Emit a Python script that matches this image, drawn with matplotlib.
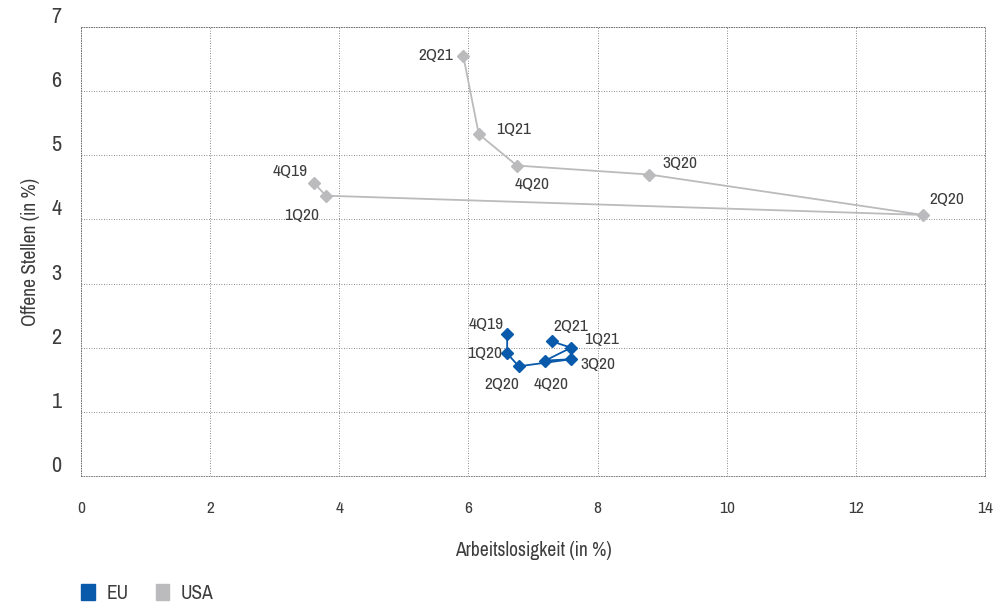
import matplotlib.pyplot as plt
from matplotlib.patches import Patch
from matplotlib import font_manager

# quarters and values (Arbeitslosigkeit, Offene Stellen)
quarters = ["4Q19", "1Q20", "2Q20", "3Q20", "4Q20", "1Q21", "2Q21"]
eu_x = [6.6, 6.6, 6.78, 7.59, 7.19, 7.59, 7.29]
eu_y = [2.21, 1.91, 1.71, 1.82, 1.80, 2.0, 2.10]
usa_x = [3.61, 3.79, 13.04, 8.80, 6.75, 6.16, 5.92]
usa_y = [4.57, 4.37, 4.07, 4.70, 4.84, 5.33, 6.55]

# label offsets in points
eu_off = [(-15, 7), (-16, 0), (-12, -13), (19, -4), (4, -17), (22, 6), (14, 11)]
usa_off = [(-17, 8), (-17, -14), (17, 11), (22, 8), (11, -14), (25, 3), (-20, 0)]

c_eu = "#0a5aab"
c_usa = "#bbbbbd"
c_text = "#3d3d3d"

# pick a narrow face if one is around
names = sorted({f.name for f in font_manager.fontManager.ttflist})
narrow = [n for n in names if "Narrow" in n or "Condensed" in n]
fam = narrow[0] if narrow else "Roboto"
plt.rcParams["font.family"] = [fam, "DejaVu Sans"]

fig = plt.figure(figsize=(9.94, 6.05), dpi=100)
ax = fig.add_axes([81 / 994, 1 - 476 / 605, 904 / 994, 449 / 605])

ax.plot(usa_x, usa_y, color=c_usa, lw=1.3, marker="D", ms=6.5, zorder=3)
ax.plot(eu_x, eu_y, color=c_eu, lw=1.3, marker="D", ms=6.5, zorder=4)

for q, x, y, o in zip(quarters, usa_x, usa_y, usa_off):
    ax.annotate(q, (x, y), xytext=o, textcoords="offset points",
                ha="center", va="center", fontsize=12.5, color=c_text)
for q, x, y, o in zip(quarters, eu_x, eu_y, eu_off):
    ax.annotate(q, (x, y), xytext=o, textcoords="offset points",
                ha="center", va="center", fontsize=12.5, color=c_text)

ax.set_xlim(0, 14)
ax.set_ylim(0, 7)
ax.set_xticks(range(0, 15, 2))
ax.set_yticks(range(0, 8))
ax.grid(True, color="#666666", ls=(0, (1, 2)), lw=0.6)
for s in ax.spines.values():
    s.set_color("#666666")
    s.set_linestyle((0, (1, 2)))
    s.set_linewidth(0.6)
ax.tick_params(length=0, colors=c_text)
ax.tick_params(axis="x", labelsize=12.5, pad=18)
ax.tick_params(axis="y", labelsize=16, pad=14)
for lab in ax.get_yticklabels():
    lab.set_verticalalignment("bottom")

ax.set_xlabel("Arbeitslosigkeit (in %)", fontsize=14, color=c_text, labelpad=18)
ax.set_ylabel("Offene Stellen (in %)", fontsize=14, color=c_text, labelpad=8)

handles = [Patch(color=c_eu, label="EU"), Patch(color=c_usa, label="USA")]
fig.legend(handles=handles, loc="lower left", bbox_to_anchor=(0.064, -0.025),
           ncol=2, frameon=False, fontsize=14, handlelength=0.7,
           handleheight=0.9, columnspacing=1.4, handletextpad=0.6,
           labelcolor=c_text)

fig.savefig("out.png", dpi=100)
